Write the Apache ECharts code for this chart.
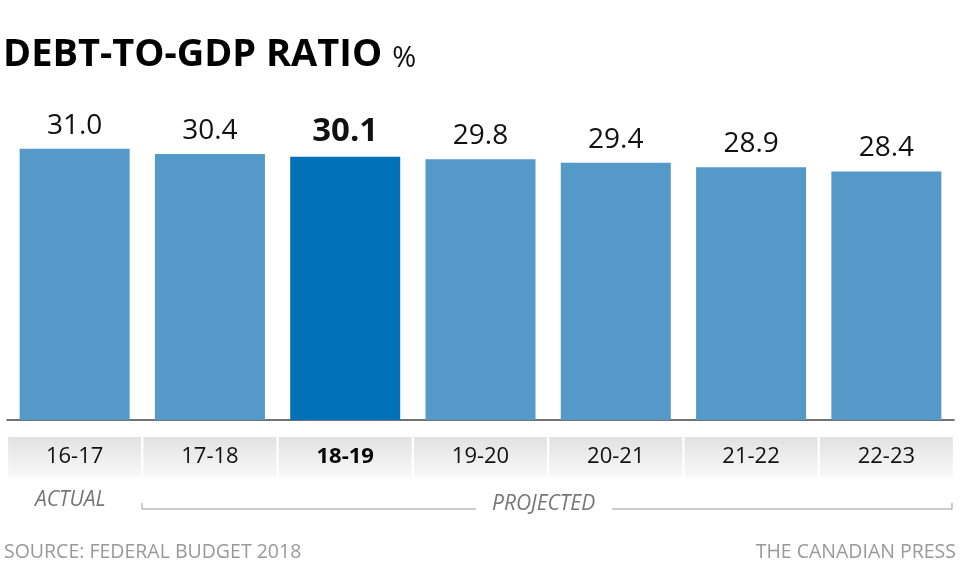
<!DOCTYPE html>
<html>
<head>
<meta charset="utf-8">
<script src="https://cdn.jsdelivr.net/npm/echarts@6/dist/echarts.min.js"></script>
<style>
    html, body { margin: 0; padding: 0; background: #fff; }
    #chartmain { width: 961px; height: 577px; }
</style>
</head>
<body>
<div id="chartmain"></div>
<script>
var years = ['16-17', '17-18', '18-19', '19-20', '20-21', '21-22', '22-23'];
var ratio = [31.0, 30.4, 30.1, 29.8, 29.4, 28.9, 28.4];
var currentYear = '18-19';

var FONT = '"Open Sans", "Noto Sans", sans-serif';

showChart();

function showChart(){
    var data = [];
    for (var i = 0; i < ratio.length; i++) {
        var isCur = years[i] == currentYear;
        data.push({
            value: ratio[i],
            itemStyle: { color: isCur ? '#0070b8' : '#5599c8' },
            label: isCur ? { fontWeight: 'bold', fontSize: 33 } : {}
        });
    }

    // grey band behind each year label
    var labelBg = {
        type: 'linear', x: 0, y: 0, x2: 0, y2: 1,
        colorStops: [
            { offset: 0, color: '#e2e2e2' },
            { offset: 0.5, color: '#ededed' },
            { offset: 1, color: '#f9f9f9' }
        ]
    };

    var option = {
        animation: false,
        title: {
            text: '{b|DEBT-TO-GDP RATIO}  {p|%}',
            left: 3,
            top: 36,
            padding: 0,
            textStyle: {
                fontWeight: 'normal',
                rich: {
                    b: { fontFamily: FONT, fontWeight: 'bold', fontSize: 38, color: '#000' },
                    p: { fontFamily: FONT, fontWeight: 'normal', fontSize: 29, color: '#111',
                         verticalAlign: 'bottom', padding: [0, 0, 1, 0] }
                }
            }
        },
        grid: { left: 7, right: 7, top: 70, bottom: 157 },
        xAxis: {
            type: 'category',
            data: years,
            axisTick: { show: false },
            axisLine: { lineStyle: { color: '#444', width: 1.5 } },
            axisLabel: {
                margin: 17,
                formatter: function (v) {
                    return v == currentYear ? '{cur|' + v + '}' : '{n|' + v + '}';
                },
                rich: {
                    n: {
                        fontFamily: FONT, fontSize: 22, color: '#111',
                        width: 133, height: 40, align: 'center', backgroundColor: labelBg
                    },
                    cur: {
                        fontFamily: FONT, fontSize: 22, fontWeight: 'bold', color: '#000',
                        width: 133, height: 40, align: 'center', backgroundColor: labelBg
                    }
                }
            }
        },
        yAxis: {
            type: 'value',
            min: 0,
            max: 40,
            show: false,
            splitLine: { show: false }
        },
        series: [{
            type: 'bar',
            data: data,
            barWidth: 110,
            label: {
                show: true,
                position: 'top',
                distance: 9,
                fontFamily: FONT,
                fontSize: 28,
                color: '#111',
                formatter: function (p) { return p.value.toFixed(1); }
            }
        }],
        graphic: [
            { type: 'text', left: 35, top: 490,
              style: { text: 'ACTUAL', font: 'italic 21px ' + FONT, fill: '#777' } },
            { type: 'text', left: 492, top: 494,
              style: { text: 'PROJECTED', font: 'italic 21px ' + FONT, fill: '#777' } },
            { type: 'polyline', shape: { points: [[142, 503], [142, 509], [476, 509]] },
              style: { stroke: '#999', lineWidth: 1, fill: null } },
            { type: 'polyline', shape: { points: [[612, 509], [952, 509], [952, 503]] },
              style: { stroke: '#999', lineWidth: 1, fill: null } },
            { type: 'text', left: 4, top: 542,
              style: { text: 'SOURCE: FEDERAL BUDGET 2018', font: '19.5px ' + FONT, fill: '#999' } },
            { type: 'text', right: 5, top: 542,
              style: { text: 'THE CANADIAN PRESS', font: '19.5px ' + FONT, fill: '#999' } }
        ]
    };

    var myChart = echarts.init(document.getElementById('chartmain'));
    myChart.setOption(option);
}
</script>
</body>
</html>
